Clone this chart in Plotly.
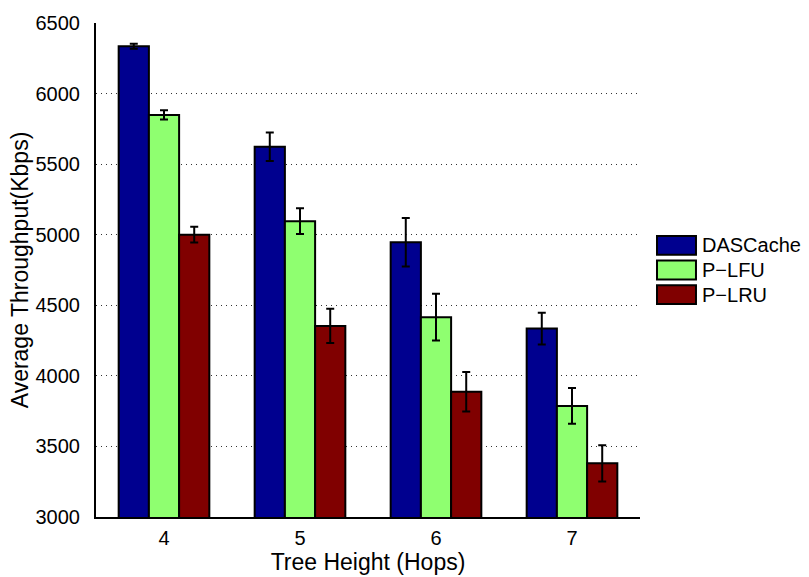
import plotly.graph_objects as go

# ---- data ----
tree_heights = [4, 5, 6, 7]
series_names = ["DASCache", "P\u2212LFU", "P\u2212LRU"]
dascache = [6335, 5623, 4947, 4335]
dascache_err = [18, 101, 172, 113]
plfu = [5849, 5096, 4416, 3787]
plfu_err = [33, 91, 165, 127]
plru = [5000, 4354, 3887, 3380]
plru_err = [56, 122, 140, 129]
y_ticks = [3000, 3500, 4000, 4500, 5000, 5500, 6000, 6500]

colors = ["#00008F", "#8FFF70", "#800000"]
values = [dascache, plfu, plru]
errors = [dascache_err, plfu_err, plru_err]

FONT = "Liberation Sans, Arial, Helvetica, sans-serif"

fig = go.Figure()
for name, vals, errs, col in zip(series_names, values, errors, colors):
    fig.add_trace(go.Bar(
        x=tree_heights, y=vals, name=name,
        marker=dict(color=col, line=dict(color="black", width=2)),
        error_y=dict(type="data", array=errs, visible=True,
                     color="black", thickness=2, width=4),
        showlegend=False,
    ))

# custom MATLAB-like legend
x0, x1, xt = 1.03125, 1.1029, 1.1103
for i, (name, col) in enumerate(zip(series_names, colors)):
    yc = 0.55 - 0.05 * i
    fig.add_shape(type="rect", xref="paper", yref="paper",
                  x0=x0, x1=x1, y0=yc - 0.019, y1=yc + 0.019,
                  fillcolor=col, line=dict(color="black", width=2))
    fig.add_annotation(xref="paper", yref="paper", x=xt, y=yc,
                       text=name, showarrow=False, xanchor="left",
                       yanchor="middle",
                       font=dict(size=20, color="black", family=FONT))

fig.update_layout(
    width=809, height=577,
    margin=dict(l=96, r=169, t=17, b=60),
    paper_bgcolor="white", plot_bgcolor="white",
    barmode="group", bargap=1/3, bargroupgap=0,
    font=dict(family=FONT, size=20, color="black"),
)
fig.update_xaxes(
    range=[3.5, 7.5], tickvals=tree_heights, ticktext=[str(t) for t in tree_heights],
    showline=True, linecolor="black", linewidth=2, ticks="",
    showgrid=False, zeroline=False, ticklabelstandoff=2,
    title=dict(text="Tree Height (Hops)", standoff=0, font=dict(size=23)),
    tickfont=dict(size=20),
)
fig.update_yaxes(
    range=[3000, 6500], tickvals=y_ticks,
    showline=True, linecolor="black", linewidth=2, ticks="",
    showgrid=True, gridcolor="#333333", griddash="1px,4px", gridwidth=1,
    zeroline=False, ticklabelstandoff=10,
    title=dict(text="Average Throughput(Kbps)", standoff=0, font=dict(size=23)),
    tickfont=dict(size=20),
)

fig.write_html("out.html")
